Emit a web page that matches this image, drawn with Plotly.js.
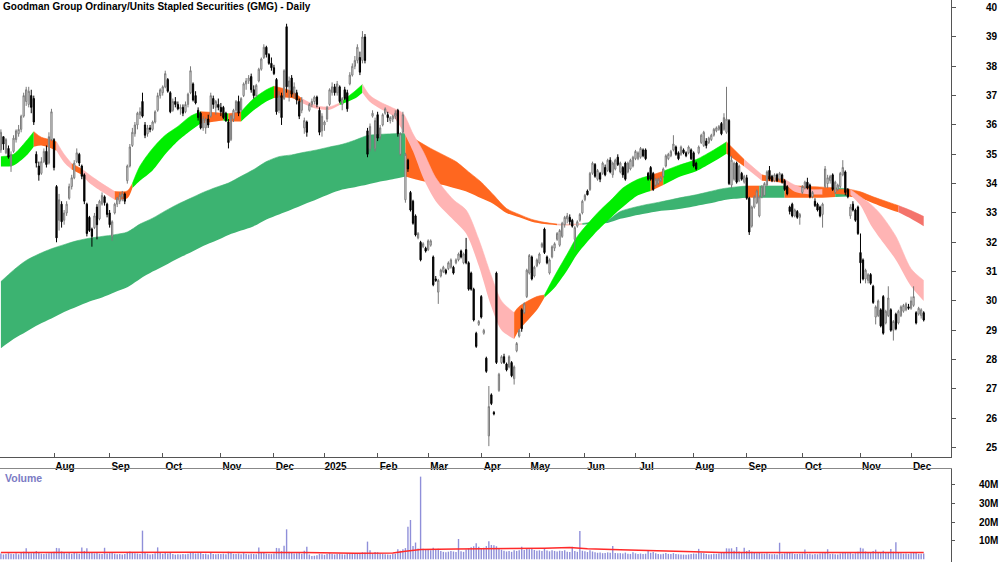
<!DOCTYPE html>
<html><head><meta charset="utf-8">
<script src="https://cdn.plot.ly/plotly-3.0.1.min.js"></script>
<style>html,body{margin:0;padding:0;background:#fff}#chart{width:1000px;height:562px}</style>
</head><body><div id="chart"></div>
<script>
// ---- trading calendar ----
const startDate = [2024, 6, 3]; // 3 Jul 2024 (UTC, month 0-based)
const holidays = ['2024-12-25','2024-12-26','2025-01-01','2025-01-27','2025-04-18','2025-04-21','2025-04-25','2025-06-09'];

// ---- daily candles: [open, high, low, close, volume (M)] ----
const jul24 = [
[35.15,35.85,35.05,35.75,3.1],[35.6,35.6,35.15,35.35,2.6],[35.05,35.55,35.0,35.5,2.9],[35.2,35.3,34.85,34.9,3.3],
[34.6,35.1,34.4,35.0,3.0],[35.1,35.65,35.05,35.55,2.8],[35.5,35.85,35.4,35.8,3.2],[35.7,36.0,35.6,35.85,2.7],
[35.85,36.35,35.75,36.3,3.4],[36.3,37.1,36.25,37.0,4.1],[36.8,37.3,36.65,37.2,5.9],[36.7,37.3,36.6,37.15,3.5],
[37.0,37.2,36.4,36.6,3.2],[36.9,37.0,36.0,36.1,3.6],[35.0,35.1,34.55,34.7,4.4],[34.6,34.75,34.1,34.3,3.8],
[34.35,34.9,34.3,34.75,3.0],[34.75,35.2,34.7,35.1,2.9],[35.1,35.3,34.55,34.65,3.1],[34.7,35.75,34.65,35.6,3.3],
[35.5,36.55,35.45,36.45,3.9]];
const aug24 = [
[35.5,35.55,34.45,34.55,4.0],[33.9,33.95,32.0,32.15,6.1],[32.75,33.65,32.4,33.45,6.0],[33.3,33.4,32.5,32.7,4.2],
[32.75,33.1,32.6,33.0,3.4],[33.0,33.4,32.9,33.3,3.1],[33.5,34.0,33.45,33.9,3.5],[33.9,34.3,33.8,34.2,3.0],
[34.2,34.8,34.15,34.7,3.6],[34.75,35.2,34.7,35.05,3.3],[35.0,35.05,34.6,34.7,3.0],[34.6,34.65,34.15,34.25,6.4],
[34.3,34.35,33.3,33.4,4.5],[33.3,33.35,32.2,32.3,5.9],[32.85,32.9,32.35,32.4,3.9],[32.45,32.5,31.85,32.2,3.7],
[32.5,33.0,32.45,32.9,3.2],[33.2,33.3,32.1,32.6,3.5],[32.8,33.45,32.75,33.4,3.0],[33.3,33.7,33.25,33.6,2.8],
[33.55,33.6,33.25,33.35,6.2],[33.3,33.35,32.85,32.95,3.1]];
const sep24 = [
[33.0,33.1,32.5,32.6,3.3],[32.2,32.75,32.05,32.7,3.6],[33.0,33.35,32.95,33.3,3.0],[33.3,33.55,33.2,33.5,2.7],
[33.4,33.7,33.3,33.6,2.9],[33.55,33.75,33.4,33.65,2.6],[33.65,33.7,33.3,33.4,2.8],[34.1,34.65,34.0,34.6,3.9],
[34.6,35.35,34.55,35.25,4.2],[35.3,35.9,35.25,35.75,3.7],[35.7,36.1,35.6,36.0,3.3],[36.0,36.45,35.85,36.4,3.1],
[36.35,36.6,36.2,36.45,2.9],[36.8,37.1,36.25,36.3,15.4],[36.0,36.1,35.55,35.65,3.8],[35.7,36.0,35.6,35.9,3.0],
[35.9,36.0,35.75,35.85,2.6],[35.85,36.15,35.8,36.1,2.8],[36.1,36.5,36.05,36.45,3.2],[36.5,37.1,36.45,37.0,6.4],
[37.0,37.25,36.9,37.2,3.4]];
const oct24 = [
[37.1,37.35,37.0,37.3,3.0],[37.3,37.85,37.25,37.75,3.5],[37.55,37.6,37.1,37.15,3.1],[37.1,37.15,36.4,36.45,3.6],
[36.5,36.9,36.45,36.8,2.9],[36.8,36.95,36.6,36.7,2.5],[36.7,36.8,36.5,36.55,2.7],[36.55,36.7,36.35,36.6,2.6],
[36.6,36.7,36.3,36.4,2.8],[36.45,36.8,36.4,36.7,2.7],[36.7,37.1,36.6,37.05,3.0],[37.1,38.0,37.05,37.85,3.9],
[37.4,37.45,36.8,36.85,3.6],[37.0,37.15,36.7,36.75,3.1],[36.5,36.6,36.15,36.25,3.2],[36.4,36.45,35.85,35.9,3.4],
[35.9,36.3,35.8,36.2,2.9],[35.9,36.25,35.7,36.2,3.0],[36.2,36.35,35.9,36.0,2.6],[36.3,37.1,36.25,37.0,3.5],
[36.9,37.0,36.55,36.7,2.8],[36.6,36.85,36.35,36.8,2.7],[36.7,36.9,36.5,36.6,2.9]];
const nov24 = [
[36.6,36.75,36.3,36.45,2.8],[36.6,36.65,36.2,36.25,3.0],[36.4,36.45,36.1,36.15,2.7],[36.1,36.2,35.2,35.4,4.1],
[35.5,36.35,35.45,36.3,3.6],[36.2,36.55,36.1,36.5,2.9],[36.5,36.85,36.4,36.8,2.8],[36.8,37.0,36.3,36.4,3.1],
[36.5,36.95,36.45,36.9,2.7],[37.0,37.45,36.95,37.4,3.3],[37.4,37.6,37.2,37.5,2.9],[37.5,37.7,37.4,37.6,2.6],
[37.65,37.75,37.1,37.2,3.0],[37.2,37.35,36.9,37.0,2.8],[37.0,37.4,36.95,37.35,2.7],[37.5,37.95,37.45,37.9,6.4],
[37.9,38.3,37.85,38.25,3.4],[38.3,38.75,38.25,38.65,3.6],[38.65,38.7,38.3,38.4,3.0],[38.4,38.45,38.05,38.1,2.9],
[38.1,38.3,37.85,37.95,2.8]];
const dec24 = [
[37.95,38.05,37.7,37.75,3.1],[37.55,37.6,36.35,36.45,6.1],[36.5,37.15,36.4,37.0,6.0],[37.0,37.1,36.0,36.25,4.4],
[36.9,37.9,36.85,37.85,7.3],[39.35,39.45,37.1,37.3,16.1],[37.3,37.65,36.8,37.5,4.0],[37.6,37.7,36.95,37.05,3.5],
[37.1,37.45,36.9,37.3,3.1],[37.1,37.2,36.7,36.85,3.3],[36.8,36.9,36.2,36.3,3.6],[36.5,36.95,36.4,36.85,3.0],
[35.9,36.25,35.7,36.15,4.6],[36.1,36.15,35.6,35.75,6.7],[36.5,36.75,36.45,36.7,2.6],[36.7,36.9,36.6,36.8,1.8],
[36.8,37.0,36.7,36.95,1.9],[36.95,37.0,36.6,36.7,2.2],[36.5,36.6,35.65,35.75,2.9],[35.8,36.4,35.6,36.3,2.7]];
const jan25 = [
[36.0,36.15,35.8,36.1,2.4],[36.2,36.65,36.1,36.6,2.8],[36.7,37.25,36.65,37.2,3.3],[37.1,37.45,37.0,37.3,2.9],
[37.3,37.4,37.0,37.1,2.6],[37.1,37.5,37.0,37.4,2.8],[37.3,37.35,36.75,36.8,3.0],[36.7,36.95,36.5,36.9,2.7],
[37.2,37.3,36.85,36.9,2.6],[37.1,37.2,36.45,36.55,3.2],[37.4,37.8,37.35,37.7,3.1],[37.7,38.1,37.65,38.0,2.9],
[38.0,38.35,37.9,38.2,2.8],[38.2,38.75,38.1,38.65,3.4],[38.3,38.5,37.7,37.8,3.3],[38.2,39.2,38.1,39.0,3.8],
[39.0,39.1,38.1,38.2,3.6],[35.8,35.9,34.9,35.0,9.5],[35.2,36.05,35.1,35.95,4.8],[36.3,36.5,36.25,36.4,3.2],
[35.2,36.25,35.1,36.15,3.9]];
const feb25 = [
[36.35,36.45,35.45,35.55,3.8],[35.6,36.0,35.5,35.9,3.1],[36.0,36.4,35.95,36.35,2.9],[36.4,36.6,36.35,36.55,2.7],
[36.35,36.45,36.1,36.25,2.6],[36.15,36.3,36.05,36.25,2.5],[36.2,36.35,36.1,36.3,2.8],[36.3,36.5,36.2,36.4,3.0],
[36.5,36.55,35.6,35.7,5.4],[35.0,35.75,34.95,35.7,4.6],[35.75,36.45,35.7,36.35,5.4],[33.45,35.05,33.35,35.0,6.0],
[34.8,34.85,34.4,34.5,17.5],[33.7,33.75,33.05,33.1,21.1],[33.4,33.45,32.6,32.65,7.2],[32.9,32.95,32.2,32.25,9.0],
[32.15,32.35,32.1,32.3,5.8],[32.0,32.05,31.35,31.4,44.4],[31.85,32.0,31.8,31.95,5.6],[31.8,31.85,31.65,31.7,5.2]];
const mar25 = [
[31.75,32.1,31.7,32.05,5.5],[31.9,32.1,31.85,32.05,4.9],[31.5,31.55,30.5,30.55,6.2],[30.75,30.85,30.65,30.7,5.1],
[30.3,30.75,29.9,30.7,5.6],[30.85,31.1,30.8,31.05,4.4],[31.0,31.2,30.95,31.15,4.0],[31.05,31.1,30.9,30.95,3.8],
[31.1,31.35,31.05,31.3,4.1],[31.15,31.45,31.1,31.4,4.5],[31.15,31.2,30.9,30.95,4.2],[31.3,31.45,31.25,31.4,3.9],
[31.4,31.65,31.35,31.6,10.9],[31.7,31.75,31.45,31.5,4.3],[31.3,31.65,31.25,31.6,4.0],[31.75,32.15,31.25,31.3,5.2],
[31.3,31.35,30.35,30.4,5.9],[30.95,31.0,30.35,30.4,6.5],[30.4,30.45,29.3,29.35,7.0],[28.9,28.95,28.4,28.45,8.6],
[29.2,29.35,29.15,29.3,6.8]];
const apr25 = [
[30.15,30.2,29.4,29.45,5.8],[28.9,29.05,28.85,29.0,6.2],[28.05,28.1,27.55,27.6,7.1],[25.4,27.1,25.05,26.4,9.7],
[26.8,26.85,26.45,26.5,7.7],[26.2,26.25,26.1,26.15,7.5],[30.95,31.0,27.85,27.9,7.0],[26.95,27.55,26.9,27.5,6.0],
[27.9,28.15,27.85,28.1,5.1],[28.1,28.2,27.85,27.9,4.6],[27.85,27.9,27.6,27.65,4.2],[27.75,28.15,27.7,28.1,4.4],
[27.9,27.95,27.4,27.45,4.0],[27.35,27.8,27.15,27.75,4.8],[28.3,28.6,28.25,28.55,4.5],[28.8,29.05,28.75,29.0,4.9],
[29.7,29.75,28.95,29.05,6.8],[29.6,29.95,29.55,29.9,5.0],[30.15,31.1,30.1,31.05,5.7]];
const may25 = [
[30.95,31.6,30.9,31.55,5.4],[31.5,31.55,30.7,30.75,5.9],[30.85,31.2,30.8,31.15,5.0],[31.2,31.45,31.15,31.4,4.6],
[31.3,31.65,31.25,31.6,4.8],[31.85,32.0,31.8,31.95,4.4],[32.45,32.5,31.6,31.65,5.6],[31.5,31.55,31.25,31.3,4.7],
[30.95,31.45,30.9,31.4,4.3],[31.5,31.9,31.45,31.85,4.9],[31.8,32.0,31.7,31.95,4.5],[32.1,32.35,32.05,32.3,4.2],
[31.9,32.45,31.85,32.4,4.6],[32.2,32.7,32.15,32.65,4.4],[32.6,32.9,32.5,32.85,4.8],[32.8,33.0,32.65,32.9,4.1],
[32.85,32.95,32.6,32.7,3.9],[32.75,32.8,32.5,32.55,6.8],[32.1,32.55,31.75,32.5,4.5],[32.55,32.75,32.5,32.7,4.0],
[32.75,33.0,32.7,32.95,15.2],[33.0,33.45,32.95,33.4,4.6]];
const jun25 = [
[33.45,33.65,33.4,33.6,4.3],[33.75,33.8,33.6,33.62,3.9],[33.8,34.4,33.75,34.35,4.8],[34.35,34.75,34.3,34.7,4.2],
[34.65,34.7,34.2,34.25,3.8],[34.15,34.5,34.1,34.45,3.5],[34.35,34.4,34.05,34.15,3.6],[34.35,34.75,34.3,34.7,3.3],
[34.55,34.65,34.25,34.3,3.4],[34.45,34.85,34.4,34.8,3.7],[34.8,34.9,34.35,34.4,3.5],[34.3,34.75,34.2,34.7,7.2],
[34.5,34.85,34.45,34.8,3.4],[34.9,35.0,34.6,34.65,3.2],[34.4,34.75,34.35,34.7,3.3],[34.55,34.6,34.2,34.3,3.1],
[34.7,34.75,34.1,34.15,3.6],[34.4,34.75,34.35,34.7,3.0],[34.5,34.85,34.45,34.8,2.9],[34.6,34.95,34.55,34.9,3.8]];
const jul25 = [
[34.85,35.15,34.8,35.1,3.2],[34.85,35.1,34.8,35.05,2.9],[34.9,35.25,34.85,35.2,3.1],[35.15,35.2,34.9,34.95,2.8],
[35.15,35.2,34.8,34.85,3.0],[34.35,34.4,34.1,34.15,4.6],[34.55,34.6,34.1,34.15,3.5],[34.35,34.4,33.75,33.8,3.9],
[33.95,34.2,33.9,34.15,3.2],[34.0,34.2,33.95,34.15,2.8],[34.1,34.25,34.05,34.2,2.7],[34.25,34.55,34.2,34.5,3.0],
[34.6,35.0,34.55,34.95,3.4],[34.85,35.05,34.8,35.0,2.9],[34.95,35.15,34.9,35.1,2.8],[35.15,35.65,35.1,35.35,3.3],
[35.25,35.3,34.95,35.0,2.9],[35.05,35.1,34.8,34.85,2.7],[35.0,35.3,34.95,35.25,2.6],[35.15,35.2,35.0,35.05,2.5],
[35.05,35.1,34.9,34.95,2.4],[35.05,35.3,35.0,35.25,2.6],[35.15,35.2,34.8,34.85,2.9]];
const aug25 = [
[35.05,35.1,34.55,34.6,3.1],[34.7,34.75,34.45,34.5,3.0],[35.05,35.3,35.0,35.25,5.6],[35.4,35.7,35.35,35.65,3.4],
[35.3,35.8,35.25,35.75,3.2],[35.45,35.55,35.2,35.3,2.8],[35.4,35.6,35.35,35.55,2.6],[35.5,35.7,35.45,35.65,2.7],
[35.65,35.9,35.6,35.85,3.0],[35.8,35.95,35.75,35.9,2.9],[35.85,36.0,35.8,35.95,3.1],[36.05,36.1,35.65,35.7,3.5],
[35.85,36.4,35.8,36.25,3.6],[35.75,37.3,35.7,36.2,5.9],[36.15,36.2,33.95,34.0,5.8],[33.95,34.95,33.85,34.8,5.9],
[34.15,34.75,34.1,34.7,4.6],[34.7,34.75,34.0,34.05,6.6],[34.1,34.65,34.05,34.6,4.2],[34.35,34.4,34.1,34.15,3.8],
[34.05,34.3,34.0,34.25,6.2]];
const sep25 = [
[34.2,34.3,33.45,33.5,4.5],[33.5,33.55,32.25,32.35,5.0],[32.55,33.25,32.5,33.2,4.1],[33.2,33.6,33.15,33.55,3.4],
[33.35,33.8,33.3,33.75,3.2],[32.9,33.6,32.85,33.55,3.5],[33.55,33.95,33.5,33.9,3.1],[33.6,34.05,33.55,34.0,3.0],
[33.95,34.45,33.9,34.4,3.3],[34.45,34.6,34.1,34.15,2.9],[34.25,34.3,34.05,34.1,2.7],[34.1,34.35,34.05,34.3,2.8],
[34.3,34.35,34.05,34.1,2.6],[34.15,34.4,34.1,34.35,8.9],[34.3,34.35,34.0,34.05,3.0],[34.1,34.15,33.75,33.8,3.2],
[33.9,33.95,33.6,33.65,3.4],[33.2,33.25,32.95,33.05,3.6],[33.3,33.35,32.85,32.9,3.3],[32.9,33.15,32.85,33.1,2.9],
[33.05,33.1,32.8,32.85,2.8],[32.85,33.0,32.6,32.95,3.0]];
const oct25 = [
[33.7,33.95,33.65,33.9,3.1],[33.85,34.1,33.8,34.05,5.2],[34.05,34.2,33.8,33.85,2.8],[33.95,34.0,33.5,33.55,3.0],
[33.55,33.75,33.5,33.7,2.6],[33.4,33.5,33.2,33.25,2.9],[33.3,33.35,33.05,33.1,2.7],[33.2,33.25,32.85,32.9,3.1],
[32.95,33.35,32.5,33.3,3.3],[33.9,34.6,33.85,34.5,3.6],[34.0,34.3,33.85,34.2,5.4],[34.1,34.3,34.0,34.25,2.8],
[34.3,34.35,33.75,33.8,3.0],[33.7,34.1,33.65,34.05,2.7],[33.8,34.0,33.75,33.95,2.6],[33.9,34.4,33.85,34.35,3.1],
[34.3,34.8,34.25,34.55,3.4],[34.4,34.45,33.6,33.7,3.5],[33.8,33.85,33.5,33.55,3.2],[32.9,33.3,32.8,33.2,3.6],
[33.3,33.4,33.05,33.1,3.0],[33.1,33.15,32.7,32.75,3.3],[33.2,33.25,32.25,32.3,4.1]];
const nov25 = [
[31.65,32.3,30.6,31.3,6.2],[31.4,31.45,30.7,30.75,5.8],[30.75,31.1,30.6,31.05,4.2],[30.7,30.95,30.6,30.9,3.6],
[30.9,30.95,30.55,30.6,3.4],[30.5,30.55,29.9,29.95,4.4],[29.45,29.85,29.2,29.8,5.2],[29.5,30.05,29.45,30.0,3.8],
[29.7,29.75,29.1,29.15,3.9],[30.15,30.2,28.85,28.9,4.6],[29.25,29.7,29.2,29.65,3.7],[29.5,30.5,29.45,30.1,3.9],
[29.7,29.75,28.95,29.0,5.5],[29.0,29.35,28.65,29.3,4.1],[29.55,29.6,29.0,29.05,9.2],[29.25,29.7,29.2,29.65,3.6],
[29.5,29.85,29.45,29.8,3.2],[29.65,29.9,29.6,29.85,3.0],[29.7,29.95,29.65,29.9,3.1],[29.8,29.9,29.7,29.75,2.9]];
const dec25 = [
[29.75,30.15,29.7,30.0,3.2],[29.85,30.5,29.8,30.15,3.5],[29.6,29.65,29.2,29.25,3.4],[29.55,29.8,29.5,29.75,2.9],
[29.5,29.75,29.4,29.7,3.0],[29.6,29.65,29.3,29.35,3.1]];

// ---- month tick labels ----
const tickMonths = ['2024-08','2024-09','2024-10','2024-11','2024-12','2025-01','2025-02','2025-03','2025-04','2025-05','2025-06','2025-07','2025-08','2025-09','2025-10','2025-11','2025-12'];
const tickLabels = ['Aug','Sep','Oct','Nov','Dec','2025','Feb','Mar','Apr','May','Jun','Jul','Aug','Sep','Oct','Nov','Dec'];
const priceTicks = [25,26,27,28,29,30,31,32,33,34,35,36,37,38,39,40];
const volTicks = [10,20,30,40];
const volTickLabels = ['10M','20M','30M','40M'];

// ---- short-term moving-average ribbon (read at sample days) ----
const shortDays = [0,5,10,13,16,20,22,25,28,32,35,40,45,50,52,55,60,65,70,75,79,85,88,90,95,100,105,108,115,119,125,130,134,140,143,146,150,155,159,163,167,172,179,184,189,194,198,203,205,212,215,219,224,228,236,242,246,252,257,262,268,275,282,287,294,301,306,310,314,320,325,330,336,340,344,348,354,360,365];
const shortTop = [34.92,35.0,35.45,35.77,35.58,35.49,35.42,35.0,34.68,34.5,34.3,34.0,33.73,33.75,34.0,34.6,35.2,35.65,35.95,36.3,36.45,36.42,36.4,36.38,36.45,36.9,37.2,37.32,37.15,36.9,36.65,36.62,36.75,37.15,37.38,37.0,36.78,36.58,36.4,35.7,35.1,34.2,33.45,33.1,32.1,30.85,30.0,29.6,29.81,30.15,30.2,30.85,31.6,32.2,33.0,33.5,33.85,34.15,34.28,34.42,34.62,34.82,35.15,35.42,34.82,34.3,34.2,34.15,33.95,33.8,33.8,33.8,33.8,33.55,33.3,32.95,32.2,31.1,30.7];
const shortBot = [34.58,34.62,34.95,35.26,35.3,35.2,35.12,34.72,34.48,34.3,34.02,33.72,33.45,33.5,33.85,34.1,34.45,35.0,35.45,35.8,36.05,36.12,36.15,36.12,36.12,36.5,36.8,36.92,36.92,36.75,36.55,36.52,36.68,36.9,37.1,36.78,36.55,36.3,35.8,35.1,34.2,33.4,32.76,32.3,31.2,29.8,29.0,28.7,29.01,29.69,30.12,30.45,31.05,31.6,32.4,32.9,33.2,33.6,33.75,33.95,34.22,34.42,34.75,35.02,34.58,34.1,34.07,34.0,33.72,33.63,33.63,33.65,33.62,33.25,32.6,32.1,31.4,30.5,30.0];
const shortCol = ['G','G','G','O','O','O','P','P','O','P','P','P','O','O','G','G','G','G','G','G','O','O','G','O','G','G','G','O','O','P','P','P','G','G','P','P','P','P','P','P','P','P','P','P','P','P','P','O','O','O','G','G','G','G','G','G','G','G','O','G','G','G','G','O','P','O','O','P','P','P','O','O','P','P','P','P','P','P','P'];

// ---- long-term moving-average ribbon ----
const longDays = [0,5,10,15,20,25,30,35,40,45,50,55,60,65,70,75,80,85,90,95,100,105,110,115,120,125,130,135,140,145,150,155,160,165,170,175,180,185,190,195,200,205,210,215,220,225,230,235,240,245,250,255,260,265,270,275,280,285,290,295,300,305,310,315,320,325,330,335,340,345,350,355,360,365];
const longTop = [30.66,31.05,31.38,31.6,31.78,31.92,32.05,32.14,32.2,32.26,32.35,32.62,32.82,33.07,33.3,33.5,33.7,33.87,34.02,34.25,34.48,34.75,34.92,34.98,35.07,35.15,35.25,35.34,35.48,35.64,35.68,35.7,35.72,35.45,35.2,34.98,34.75,34.4,34.05,33.6,33.15,32.95,32.78,32.68,32.62,32.62,32.64,32.7,32.76,33.05,33.18,33.28,33.36,33.45,33.54,33.62,33.72,33.82,33.88,33.92,33.92,33.92,33.92,33.92,33.9,33.88,33.86,33.82,33.72,33.55,33.4,33.25,33.08,32.88];
const longBot = [28.39,28.7,28.95,29.2,29.4,29.62,29.8,29.98,30.12,30.3,30.47,30.75,31.0,31.22,31.45,31.65,31.87,32.05,32.25,32.4,32.55,32.78,32.95,33.12,33.3,33.47,33.65,33.8,33.88,33.97,34.07,34.15,34.24,34.12,34.03,33.95,33.83,33.7,33.5,33.3,33.0,32.85,32.7,32.62,32.58,32.57,32.6,32.64,32.66,32.8,32.9,32.98,33.06,33.1,33.16,33.24,33.32,33.42,33.48,33.52,33.52,33.52,33.52,33.52,33.52,33.52,33.54,33.56,33.5,33.33,33.17,33.02,32.8,32.55];
const longCol = ['D','D','D','D','D','D','D','D','D','D','D','D','D','D','D','D','D','D','D','D','D','D','D','D','D','D','D','D','D','D','D','D','O','O','O','O','O','O','O','O','O','O','O','O','L','L','D','D','D','D','D','D','D','D','D','D','D','D','D','O','D','D','O','O','O','O','D','O','O','O','O','S','S','S'];

// ---- volume moving average (red line) ----
const volMaDays = [0,20,40,60,80,100,120,140,155,160,166,180,200,215,225,232,245,260,270,285,300,320,340,365];
const volMa = [3.6,3.7,3.9,3.9,3.8,3.6,3.7,3.3,3.4,4.3,5.2,5.5,5.6,6.0,6.3,5.6,5.1,4.6,4.0,3.7,3.6,3.5,3.6,3.6];

// ================= build =================
const rows = [].concat(jul24,aug24,sep24,oct24,nov24,dec24,jan25,feb25,mar25,apr25,may25,jun25,jul25,aug25,sep25,oct25,nov25,dec25);
const N = rows.length;
const dates = [];
let t = Date.UTC(startDate[0], startDate[1], startDate[2]);
while (dates.length < N) {
  const dt = new Date(t);
  const wd = dt.getUTCDay();
  const s = dt.toISOString().slice(0, 10);
  if (wd !== 0 && wd !== 6 && holidays.indexOf(s) < 0) dates.push(s);
  t += 86400000;
}
const tickvals = tickMonths.map(m => dates.find(d => d.slice(0, 7) === m));

const palette = {G:'#00ee00', P:'#ffb4b4', O:'#ff671f', D:'#3cb371', L:'#f8b9ae', S:'#f4736b'};

function ribbon(days, top, bot, cols) {
  const out = [];
  let i = 0;
  while (i < days.length - 1) {
    let j = i;
    while (j + 1 < days.length - 1 && cols[j + 1] === cols[i]) j++;
    const xs = days.slice(i, j + 2).map(d => dates[d]);
    const c = palette[cols[i]];
    out.push({type:'scatter', x: xs, y: bot.slice(i, j + 2), mode:'lines',
      line:{width:0, shape:'spline', smoothing:0.8}, hoverinfo:'skip', showlegend:false, xaxis:'x', yaxis:'y'});
    out.push({type:'scatter', x: xs, y: top.slice(i, j + 2), mode:'lines', fill:'tonexty', fillcolor:c,
      line:{width:0.6, color:c, shape:'spline', smoothing:0.8}, hoverinfo:'skip', showlegend:false, xaxis:'x', yaxis:'y'});
    i = j + 1;
  }
  return out;
}

const FONT = 'Liberation Sans, Arial, Helvetica, sans-serif';
const xRange = [-0.36, 375.8];
const traces = [].concat(
  ribbon(longDays, longTop, longBot, longCol),
  ribbon(shortDays, shortTop, shortBot, shortCol),
  [{
    type:'candlestick', x: dates,
    open: rows.map(r => r[0]), high: rows.map(r => r[1]), low: rows.map(r => r[2]), close: rows.map(r => r[3]),
    increasing:{line:{color:'#7a7a7a', width:1}, fillcolor:'#ffffff'},
    decreasing:{line:{color:'#000000', width:1}, fillcolor:'#000000'},
    whiskerwidth:0, xaxis:'x', yaxis:'y3', hoverinfo:'skip', showlegend:false
  },
  {
    type:'bar', x: dates, y: rows.map(r => r[4]), xaxis:'x2', yaxis:'y2',
    marker:{color:'#8f8fd9'}, hoverinfo:'skip', showlegend:false
  },
  {
    type:'scatter', mode:'lines', x: volMaDays.map(d => dates[d]), y: volMa, xaxis:'x2', yaxis:'y2',
    line:{color:'#ff2a2a', width:1.5}, hoverinfo:'skip', showlegend:false
  }]
);

const pDomain = [1 - 457/562, 1];
const vDomain = [0, 1 - 469/562];
const pRange = [24.68, 40.26];
const tf = {family: FONT, size: 10, color: '#000', weight: 'bold'};

const layout = {
  width:1000, height:562, margin:{l:0, r:49, t:0, b:0},
  paper_bgcolor:'#ffffff', plot_bgcolor:'#ffffff', showlegend:false, bargap:0.45,
  title:{text:'Goodman Group Ordinary/Units Stapled Securities (GMG) - Daily', x:0.003, xref:'container', xanchor:'left',
    y:1 - 3/562, yref:'container', yanchor:'top', font:{family:FONT, size:10, color:'#000', weight:'bold'}},
  xaxis:{type:'category', categoryorder:'array', categoryarray:dates, range:xRange, anchor:'y',
    showgrid:false, zeroline:false, showline:true, linecolor:'#555', linewidth:1,
    ticks:'inside', ticklen:4, tickcolor:'#555', tickvals:tickvals, ticktext:tickLabels, tickfont:tf,
    ticklabelshift:11, rangeslider:{visible:false}, fixedrange:true},
  yaxis:{domain:pDomain, range:pRange, side:'right', anchor:'x', showgrid:false, zeroline:false,
    showline:true, linecolor:'#555', linewidth:1, ticks:'outside', ticklen:4, tickcolor:'#555',
    tickvals:priceTicks, tickfont:tf, ticklabelstandoff:28, fixedrange:true},
  yaxis3:{domain:pDomain, range:pRange, overlaying:'y', side:'right', anchor:'x', visible:false, fixedrange:true},
  xaxis2:{type:'category', categoryorder:'array', categoryarray:dates, range:xRange, anchor:'y2', side:'top',
    showgrid:false, zeroline:false, showline:true, linecolor:'#888',
    linewidth:1, ticks:'', showticklabels:false, fixedrange:true},
  yaxis2:{domain:vDomain, range:[-1.45, 48.5], side:'right', anchor:'x2', showgrid:false, zeroline:false,
    showline:true, linecolor:'#555', linewidth:1, ticks:'outside', ticklen:3, tickcolor:'#555',
    tickvals:volTicks, ticktext:volTickLabels, tickfont:tf, ticklabelstandoff:22, fixedrange:true},
  annotations:[{text:'Volume', xref:'paper', yref:'paper', x:0.003, y:vDomain[1], xanchor:'left', yanchor:'top',
    yshift:-1, showarrow:false, font:{family:FONT, size:10.5, color:'#7b7bc4', weight:'bold'}}]
};

Plotly.newPlot('chart', traces, layout, {staticPlot:true, displayModeBar:false});
</script>
</body></html>
